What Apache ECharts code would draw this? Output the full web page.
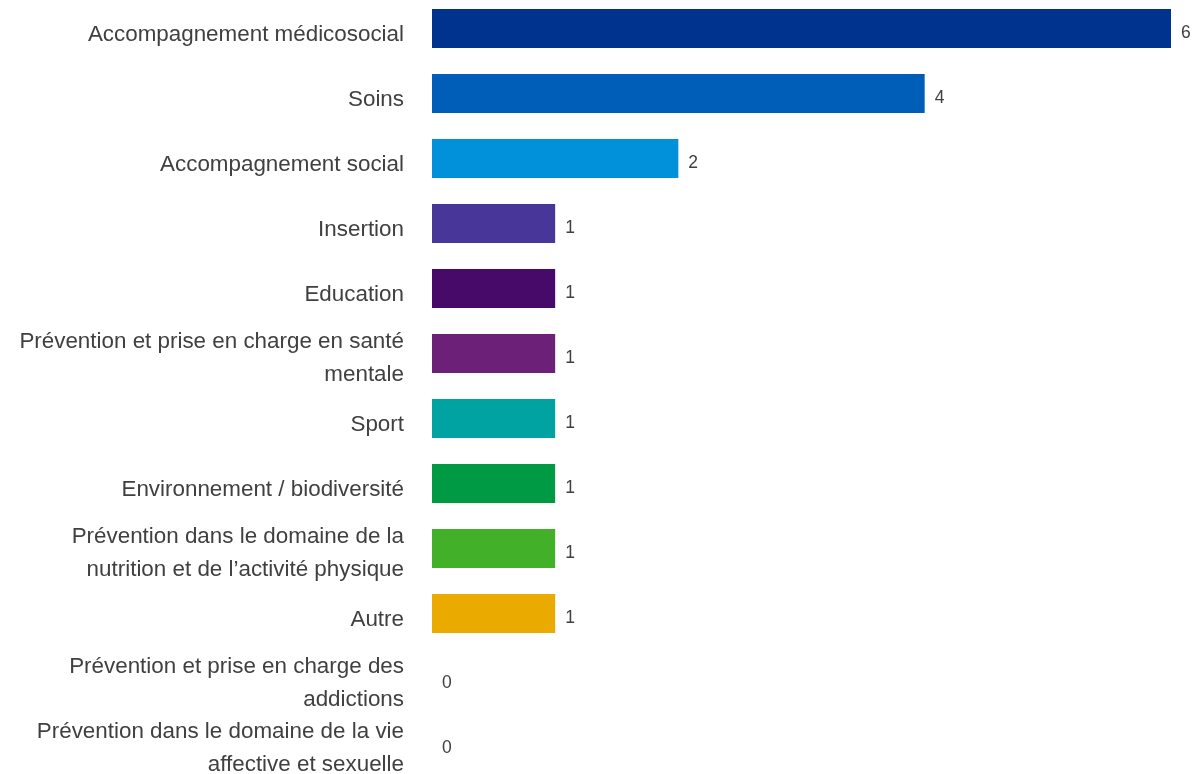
<!DOCTYPE html>
<html>
<head>
<meta charset="utf-8">
<script src="https://cdn.jsdelivr.net/npm/echarts@6/dist/echarts.min.js"></script>
<style>
  html, body { margin: 0; padding: 0; background: #ffffff; overflow: hidden; }
  body { position: relative; width: 1195px; height: 774px; }
  #chart { position: absolute; left: 0; top: -4px; width: 1195px; height: 800px; }
</style>
</head>
<body>
<div id="chart"></div>
<script>
// Categories (top to bottom), with line breaks for the long names
const categories = [
  'Accompagnement médicosocial',
  'Soins',
  'Accompagnement social',
  'Insertion',
  'Education',
  'Prévention et prise en charge en santé\nmentale',
  'Sport',
  'Environnement / biodiversité',
  'Prévention dans le domaine de la\nnutrition et de l’activité physique',
  'Autre',
  'Prévention et prise en charge des\naddictions',
  'Prévention dans le domaine de la vie\naffective et sexuelle'
];

// Number of answers per category
const counts = [6, 4, 2, 1, 1, 1, 1, 1, 1, 1, 0, 0];

// One colour per bar
const barColors = [
  '#00338D', '#005EB8', '#0091DA', '#483698', '#470A68', '#6D2077',
  '#00A3A1', '#009A44', '#43B02A', '#EAAA00', '#C6007E', '#E3BC9F'
];

const FONT = 'Liberation Sans, Arial, sans-serif';
const PLOT_H = 780;
const chart = echarts.init(document.getElementById('chart'));

// A category axis used only to print names, placed in its own grid
function nameAxis(gridIndex, showMultiLine) {
  return {
    gridIndex: gridIndex,
    type: 'category',
    data: categories,
    inverse: true,
    axisLine: { show: false },
    axisTick: { show: false },
    splitLine: { show: false },
    axisLabel: {
      interval: 0,
      hideOverlap: false,
      margin: 28,
      fontFamily: FONT,
      fontSize: 22.4,
      lineHeight: 32.5,
      color: '#404040',
      align: 'right',
      formatter: (v) => ((v.indexOf('\n') >= 0) === showMultiLine ? v : '')
    }
  };
}

function gridAt(top) {
  return { left: 432, right: 24, top: top, height: PLOT_H, containLabel: false, outerBoundsMode: 'none' };
}

chart.setOption({
  animation: false,
  grid: [
    gridAt(0),   // bars
    gridAt(6),   // one-line names, a little below the bar centres
    gridAt(5)    // two-line names
  ],
  xAxis: [0, 1, 2].map((g) => ({ gridIndex: g, type: 'value', min: 0, max: 6, show: false })),
  yAxis: [
    {
      gridIndex: 0,
      type: 'category',
      data: categories,
      inverse: true,
      axisLine: { show: false },
      axisTick: { show: false },
      splitLine: { show: false },
      axisLabel: { show: false }
    },
    nameAxis(1, false),
    nameAxis(2, true)
  ],
  series: [{
    type: 'bar',
    xAxisIndex: 0,
    yAxisIndex: 0,
    data: counts.map((v, i) => ({ value: v, itemStyle: { color: barColors[i] } })),
    barWidth: 39,
    label: {
      show: true,
      position: 'right',
      distance: 10,
      offset: [0, 5],
      fontFamily: FONT,
      fontSize: 17.5,
      color: '#404040'
    }
  }]
});
</script>
</body>
</html>
